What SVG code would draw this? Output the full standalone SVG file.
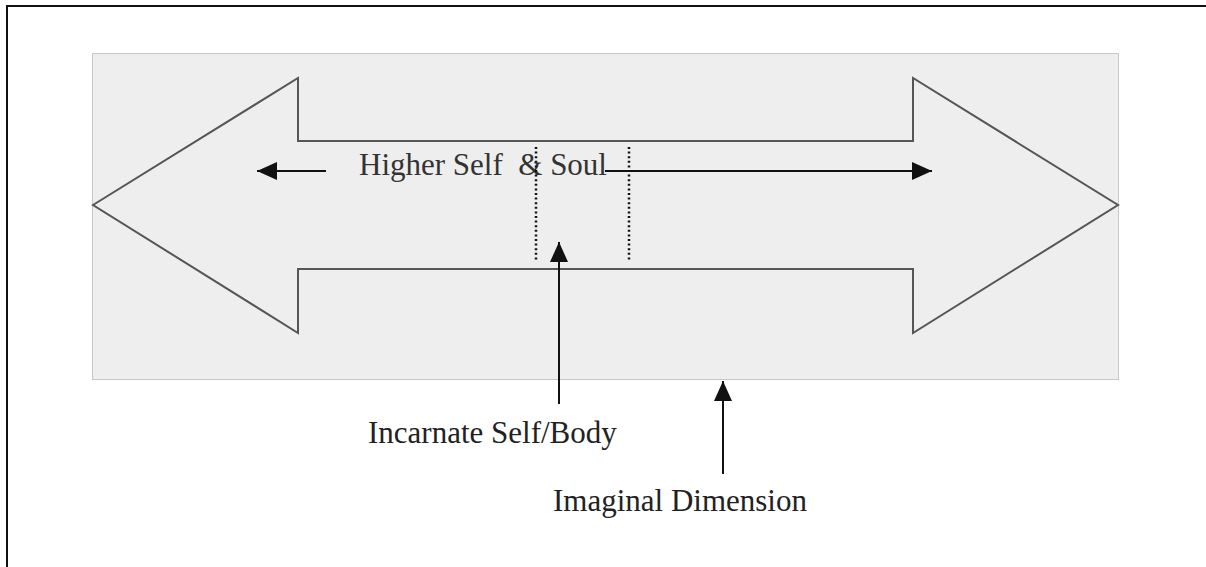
<svg xmlns="http://www.w3.org/2000/svg" width="1206" height="567" viewBox="0 0 1206 567">
<defs>
<style>
.lbl{font-family:"Liberation Serif","Times New Roman",serif;font-size:31px;fill:#222}
.con{stroke:#111;stroke-width:2;fill:none}
.dot{stroke:#111;stroke-width:2.5;stroke-dasharray:2 2.6;fill:none}
</style>
<marker id="ah" markerWidth="20" markerHeight="18" refX="20" refY="9" orient="auto" markerUnits="userSpaceOnUse">
<path d="M0,0 L20,9 L0,18 Z" fill="#111"/>
</marker>
</defs>
<rect width="1206" height="567" fill="#fff"/>
<g id="frame">
<path d="M7,567 V6 H1206" fill="none" stroke="#111" stroke-width="2"/>
</g>
<g id="imaginal-box">
<rect x="92.5" y="53.5" width="1026" height="326" fill="#eeeeee" stroke="#999" stroke-width="1" stroke-dasharray="1 1"/>
</g>
<g id="double-arrow">
<path d="M93,205 L298,78 L298,141 L913,141 L913,78 L1118,205 L913,333 L913,269 L298,269 L298,333 Z" fill="#eeeeee" stroke="#555" stroke-width="2" stroke-linejoin="miter"/>
</g>
<g id="higher-self">
<text class="lbl" x="359" y="175" style="fill:#333;white-space:pre" xml:space="preserve">Higher Self  &amp; Soul</text>
</g>
<g id="incarnate">
<text class="lbl" x="368" y="443">Incarnate Self/Body</text>
</g>
<g id="imaginal">
<text class="lbl" x="553" y="511">Imaginal Dimension</text>
</g>
<g id="connectors">
<line class="con" x1="326" y1="171" x2="257" y2="171" marker-end="url(#ah)"/>
<line class="con" x1="605" y1="171" x2="932" y2="171" marker-end="url(#ah)"/>
<line class="dot" x1="536" y1="147" x2="536" y2="262"/>
<line class="dot" x1="629" y1="147" x2="629" y2="262"/>
<line class="con" x1="559" y1="404" x2="559" y2="242" marker-end="url(#ah)"/>
<line class="con" x1="723" y1="474" x2="723" y2="381" marker-end="url(#ah)"/>
</g>
</svg>
